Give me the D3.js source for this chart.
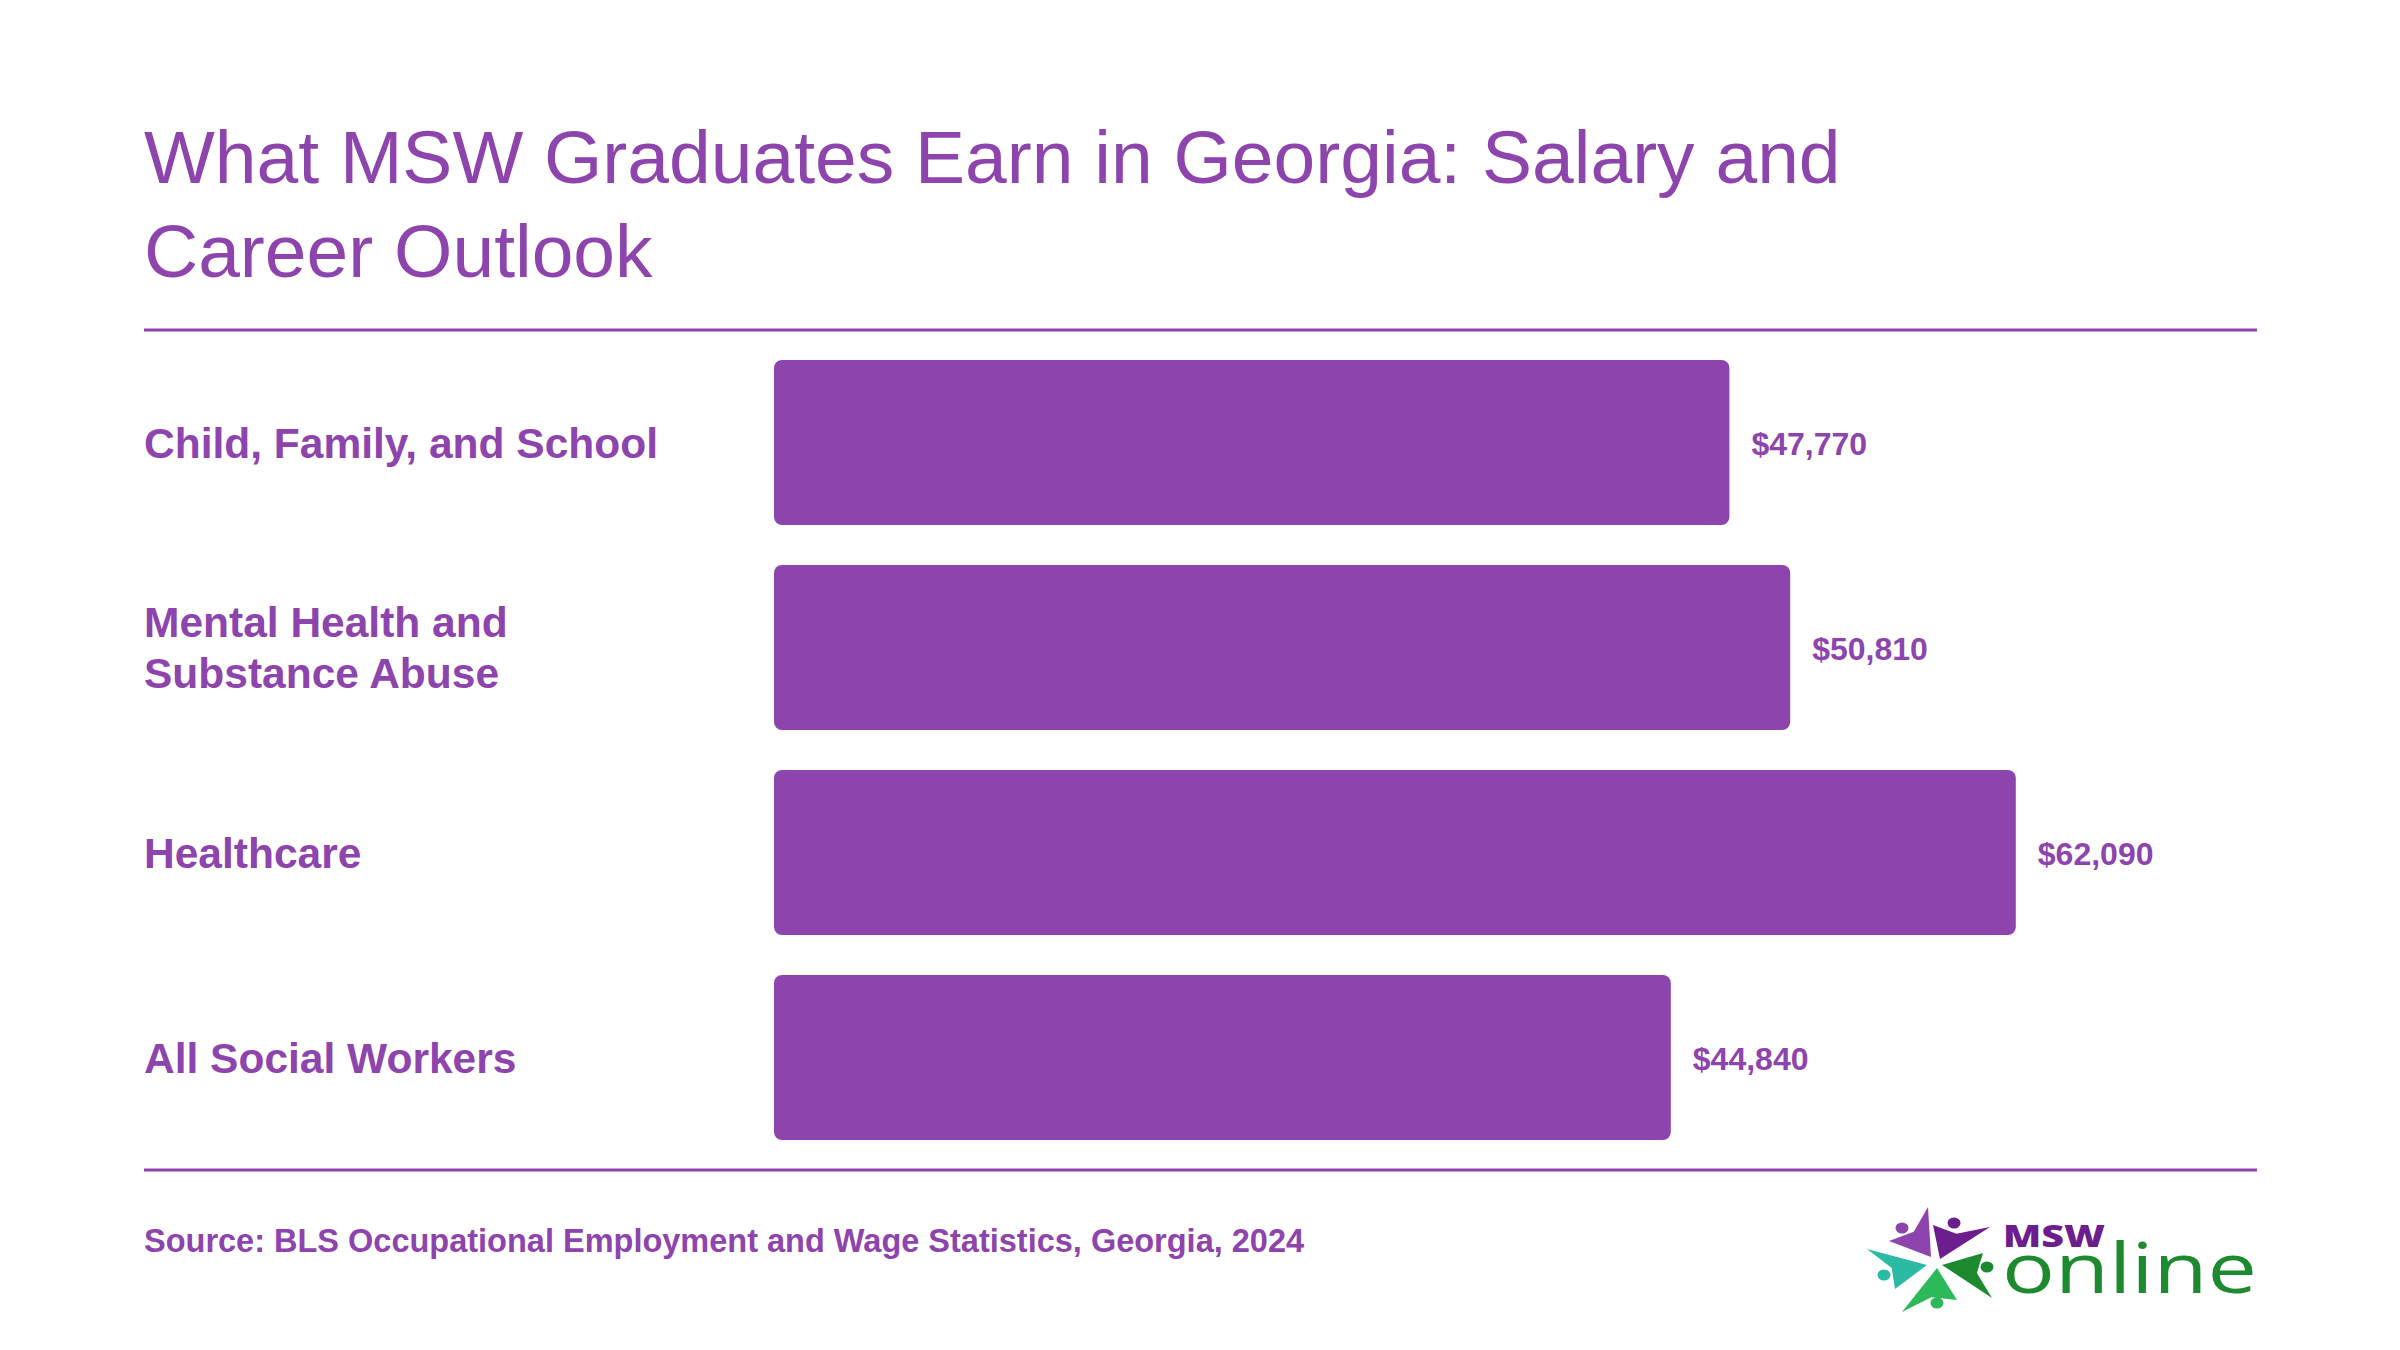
<!DOCTYPE html>
<html>
<head>
<meta charset="utf-8">
<script src="https://cdn.jsdelivr.net/npm/d3@7"></script>
<style>
  html, body { margin: 0; padding: 0; background: #ffffff; }
  svg { display: block; }
  text { font-family: "Liberation Sans", Arial, Helvetica, sans-serif; }
</style>
</head>
<body>
<svg id="chart" width="2400" height="1350"></svg>
<script>
// ---- data ----
const categories = [
  ["Child, Family, and School"],
  ["Mental Health and", "Substance Abuse"],
  ["Healthcare"],
  ["All Social Workers"]
];
const salaries = [47770, 50810, 62090, 44840];
const titleLines = ["What MSW Graduates Earn in Georgia: Salary and", "Career Outlook"];
const sourceText = "Source: BLS Occupational Employment and Wage Statistics, Georgia, 2024";

// ---- styles ----
const PURPLE = "#8e44ad";
const W = 2400, H = 1350;
const left = 144, right = 2257;

const svg = d3.select("#chart");
svg.append("rect").attr("width", W).attr("height", H).attr("fill", "#fff");

// Title
const title = svg.append("text")
  .attr("x", left).attr("y", 183)
  .attr("fill", PURPLE)
  .style("font-size", "75px");
title.selectAll("tspan").data(titleLines).join("tspan")
  .attr("x", left)
  .attr("dy", (d, i) => i === 0 ? 0 : 94)
  .text(d => d);

// Rules
svg.append("line").attr("x1", left).attr("x2", right).attr("y1", 330).attr("y2", 330)
  .attr("stroke", PURPLE).attr("stroke-width", 3);
svg.append("line").attr("x1", left).attr("x2", right).attr("y1", 1170).attr("y2", 1170)
  .attr("stroke", PURPLE).attr("stroke-width", 3);

// Scales
const idx = d3.range(categories.length);
const y = d3.scaleBand()
  .domain(idx)
  .range([340, 1160])
  .paddingInner(40 / 205)
  .paddingOuter(20 / 205);
const x = d3.scaleLinear().domain([0, 75000]).range([774, 774 + 1500]);

const fmt = d3.format("$,");

// Bars
svg.append("g").selectAll("rect").data(idx).join("rect")
  .attr("x", x(0))
  .attr("y", i => y(i))
  .attr("width", i => x(salaries[i]) - x(0))
  .attr("height", y.bandwidth())
  .attr("rx", 8).attr("ry", 8)
  .attr("fill", PURPLE);

// Value labels
svg.append("g").selectAll("text").data(idx).join("text")
  .attr("x", i => x(salaries[i]) + 22)
  .attr("y", i => y(i) + y.bandwidth() / 2 + 12)
  .attr("fill", PURPLE)
  .style("font-size", "32px")
  .style("font-weight", "bold")
  .text(i => fmt(salaries[i]));

// Category labels
const catG = svg.append("g");
idx.forEach(i => {
  const lines = categories[i];
  const cy = y(i) + y.bandwidth() / 2;
  const lh = 51;
  const firstBase = cy + 15 - (lines.length - 1) * lh / 2;
  const t = catG.append("text")
    .attr("fill", PURPLE)
    .style("font-size", "42.5px")
    .style("font-weight", "bold");
  t.selectAll("tspan").data(lines).join("tspan")
    .attr("x", left)
    .attr("y", (d, j) => firstBase + j * lh)
    .text(d => d);
});

// Source
svg.append("text")
  .attr("x", left).attr("y", 1252)
  .attr("fill", PURPLE)
  .style("font-size", "32.5px")
  .style("font-weight", "bold")
  .text(sourceText);

// Logo (decorative)
const logo = svg.append("g");
const arms = [
  { pts: [[1928,1207],[1889,1241],[1931,1257]], c: "#8e44ad", head: [1902,1228] },
  { pts: [[1933,1225],[1990,1227],[1940,1259]], c: "#6c1d8e", head: [1954,1223] },
  { pts: [[1867,1249],[1895,1289],[1927,1265]], c: "#2bbba5", head: [1884,1275] },
  { pts: [[1983,1253],[1992,1298],[1942,1265]], c: "#1d8a2f", head: [1987,1267] },
  { pts: [[1902,1312],[1957,1300],[1937,1268]], c: "#2db85a", head: [1937,1303] }
];
arms.forEach(a => {
  const [p0, p1, p2] = a.pts;
  const cx = (p0[0] + p1[0] + p2[0]) / 3, cy = (p0[1] + p1[1] + p2[1]) / 3;
  const mx = (p0[0] + p1[0]) / 2, my = (p0[1] + p1[1]) / 2;
  const qx = mx + (cx - mx) * 0.7, qy = my + (cy - my) * 0.7;
  logo.append("path")
    .attr("d", `M${p0[0]},${p0[1]} L${qx},${qy} L${p1[0]},${p1[1]} L${p2[0]},${p2[1]} Z`)
    .attr("fill", a.c);
  logo.append("ellipse")
    .attr("cx", a.head[0]).attr("cy", a.head[1])
    .attr("rx", 6.5).attr("ry", 5.5)
    .attr("fill", a.c);
});
logo.append("text")
  .attr("x", 2003).attr("y", 1247)
  .attr("fill", "#6c1d8e")
  .style("font-family", "'Open Sans', sans-serif")
  .style("font-size", "30px")
  .style("font-weight", 800)
  .attr("textLength", 102)
  .attr("lengthAdjust", "spacingAndGlyphs")
  .text("MSW");
logo.append("text")
  .attr("x", 2002).attr("y", 1293)
  .attr("fill", "#1d8a2f")
  .style("font-family", "'Open Sans', sans-serif")
  .style("font-size", "70px")
  .style("font-weight", 400)
  .attr("textLength", 255)
  .attr("lengthAdjust", "spacingAndGlyphs")
  .text("online");
</script>
</body>
</html>
